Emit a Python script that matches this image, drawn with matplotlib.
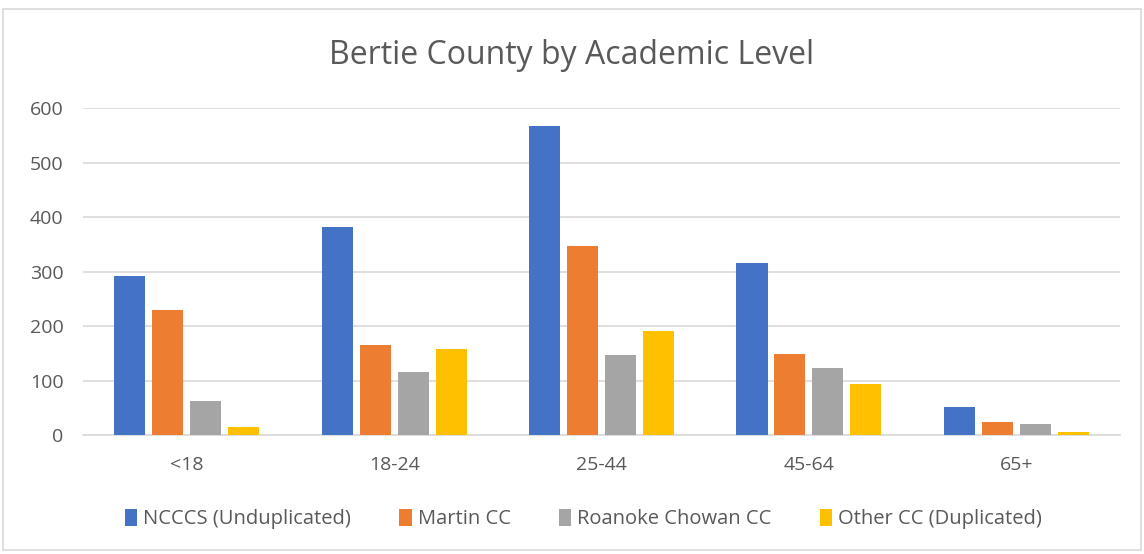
import numpy as np
import matplotlib
matplotlib.use("Agg")
import matplotlib.pyplot as plt
import matplotlib.patches as mpatches

# ── Data ──────────────────────────────────────────────────────────────────────
categories = ["<18", "18-24", "25-44", "45-64", "65+"]
series_names = ["NCCCS (Unduplicated)", "Martin CC", "Roanoke Chowan CC",
                "Other CC (Duplicated)"]
ncccs    = [292, 382, 567, 316, 51]
martin   = [230, 165, 347, 149, 23]
roanoke  = [63, 116, 147, 123, 21]
other_cc = [15, 158, 191, 93, 6]
colors = ["#4472C4", "#ED7D31", "#A5A5A5", "#FFC000"]

plt.rcParams["font.family"] = ["Open Sans", "DejaVu Sans"]

fig = plt.figure(figsize=(11.44, 5.54), dpi=100)
ax = fig.add_axes([0.0726, 0.2148, 0.9064, 0.590])

# chart frame
fig.patches.append(mpatches.Rectangle((0.003, 0.008), 0.994, 0.976,
                                      transform=fig.transFigure, fill=False,
                                      edgecolor="#D9D9D9", linewidth=1.2))

x = np.arange(len(categories))
w = 0.15
step = 0.183
for i, (vals, name, col) in enumerate(zip([ncccs, martin, roanoke, other_cc],
                                          series_names, colors)):
    ax.bar(x + (i - 1.5) * step, vals, w, color=col, label=name, zorder=3)

ax.set_xlim(-0.5, len(categories) - 0.5)
ax.set_ylim(0, 600)
ax.set_yticks(range(0, 601, 100))
ax.grid(axis="y", color="#D9D9D9", linewidth=1.2, zorder=0)
for s in ["top", "right", "left"]:
    ax.spines[s].set_visible(False)
ax.spines["bottom"].set_color("#D9D9D9")
ax.spines["bottom"].set_linewidth(1.2)
ax.tick_params(axis="both", length=0, colors="#595959", labelsize=14)
ax.tick_params(axis="x", pad=15)
ax.tick_params(axis="y", pad=14)
ax.set_xticks(x)
ax.set_xticklabels(categories)

fig.text(0.5, 0.9, "Bertie County by Academic Level", ha="center", va="center",
         fontsize=23, color="#595959")

fig.legend(loc="center", bbox_to_anchor=(0.51, 0.063), ncol=4, frameon=False,
           fontsize=14.5, labelcolor="#595959", handlelength=0.6, handleheight=0.9,
           handletextpad=0.3, columnspacing=2.4)

fig.savefig("out.png", dpi=100)
